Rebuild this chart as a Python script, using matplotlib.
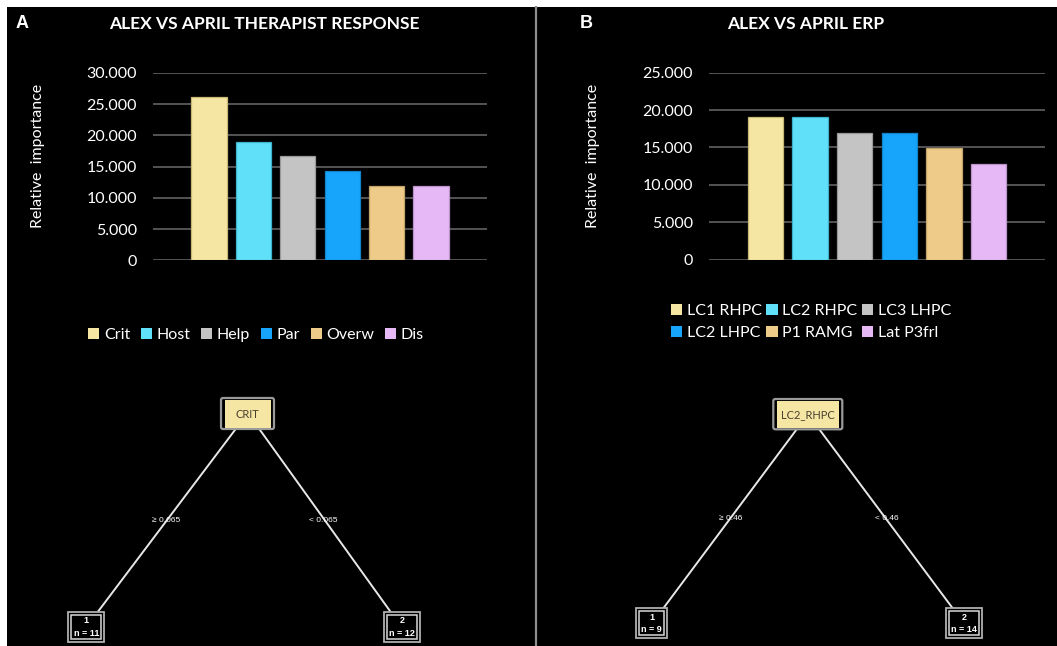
import matplotlib
matplotlib.use("Agg")
import matplotlib.pyplot as plt
from matplotlib.patches import Rectangle, FancyBboxPatch, Patch

# ---- data -------------------------------------------------------------
therapist_labels = ["Crit", "Host", "Help", "Par", "Overw", "Dis"]
therapist_values = [26.1, 19.0, 16.7, 14.3, 11.9, 11.9]

erp_labels = ["LC1 RHPC", "LC2 RHPC", "LC3 LHPC", "LC2 LHPC", "P1 RAMG", "Lat P3frl"]
erp_values = [19.1, 19.1, 17.0, 17.0, 14.9, 12.8]

therapist_ticks = [0, 5, 10, 15, 20, 25, 30]
erp_ticks = [0, 5, 10, 15, 20, 25]

tree_a_root = "CRIT"
tree_a_splits = ["\u2265 0.065", "< 0.065"]
tree_a_leaves = [("1", "n = 11"), ("2", "n = 12")]

tree_b_root = "LC2_RHPC"
tree_b_splits = ["\u2265 0.46", "< 0.46"]
tree_b_leaves = [("1", "n = 9"), ("2", "n = 14")]

# ---- style ------------------------------------------------------------
bar_colors = ["#F5E6A3", "#61E0FA", "#C4C4C4", "#17A5FC", "#EECB88", "#E6B8F5"]
bar_edges = ["#C9B874", "#3DB4CC", "#9A9A9A", "#1284CC", "#C2A36A", "#BB92C9"]
grid_color = "#5A5A5A"
text_font = ["Lato", "DejaVu Sans"]

W, H = 1057, 646
fig = plt.figure(figsize=(W / 100, H / 100), dpi=100, facecolor="white")


def fx(x):
    return x / W


def fy(y):
    return 1 - y / H


# full-figure pixel canvas for background, separators and trees
canvas = fig.add_axes([0, 0, 1, 1], zorder=0)
canvas.set_xlim(0, W)
canvas.set_ylim(H, 0)
canvas.axis("off")
canvas.add_patch(Rectangle((7, 7), W - 7, H - 7, facecolor="black", edgecolor="none"))
canvas.plot([535.5, 535.5], [7, H], color="#8C8C8C", lw=1.6)


def bar_panel(x0, x1, y_top, y_zero, labels, values, ticks, title, title_x, letter, letter_x,
              ylabel_x, legend_center, legend_ncol, colspace):
    ax = fig.add_axes([fx(x0), fy(y_zero), fx(x1) - fx(x0), (y_zero - y_top) / H], zorder=2)
    ax.set_facecolor("none")
    xs = list(range(len(values)))
    ax.bar(xs, values, width=0.79, color=bar_colors, edgecolor=bar_edges, linewidth=0.9, zorder=3)
    ax.set_xlim(-1.26, len(values) - 1 + 1.26)
    ax.set_ylim(ticks[0], ticks[-1])
    ax.set_yticks(ticks)
    ax.set_yticklabels(["0" if t == 0 else f"{t:.3f}" for t in ticks],
                       fontfamily=text_font, fontsize=11.5, color="white")
    ax.tick_params(axis="y", length=0, pad=11.5)
    ax.set_xticks([])
    for s in ax.spines.values():
        s.set_visible(False)
    ax.yaxis.grid(True, color=grid_color, lw=1.3, zorder=0)
    ax.set_axisbelow(True)

    fig.text(fx(title_x), fy(24), title, ha="center", va="center", color="white",
             fontsize=12.5, fontweight="bold", family=text_font)
    fig.text(fx(letter_x), fy(24), letter, ha="center", va="center", color="white",
             fontsize=13, fontweight="bold", family=["Liberation Sans", "DejaVu Sans"])
    fig.text(fx(ylabel_x), fy(156), "Relative  importance", rotation=90, ha="center",
             va="center", color="white", fontsize=11.5, family=text_font)

    handles = [Patch(facecolor=c, edgecolor="none") for c in bar_colors]
    hl = list(zip(handles, labels))
    if legend_ncol == 3:
        order = [0, 3, 1, 4, 2, 5]
        hl = [hl[i] for i in order]
    leg = fig.legend([h for h, _ in hl], [l for _, l in hl], loc="center",
                     bbox_to_anchor=(fx(legend_center[0]), fy(legend_center[1])),
                     ncol=legend_ncol, frameon=False, handlelength=0.7, handleheight=0.7,
                     handletextpad=0.3, columnspacing=colspace, labelspacing=0.45,
                     prop={"family": text_font, "size": 11.5})
    for t in leg.get_texts():
        t.set_color("white")
    return ax


bar_panel(153, 487, 73, 260.3, therapist_labels, therapist_values, therapist_ticks,
          "ALEX VS APRIL THERAPIST RESPONSE", 264, "A", 22, 38, (256, 335), 6, 0.65)
bar_panel(709, 1045, 72.7, 259.7, erp_labels, erp_values, erp_ticks,
          "ALEX VS APRIL ERP", 806, "B", 586, 593, (811, 322), 3, 0.3)


def root_box(x0, x1, y0, y1, label):
    canvas.add_patch(FancyBboxPatch((x0, y0), x1 - x0, y1 - y0,
                                    boxstyle="round,pad=0,rounding_size=2",
                                    facecolor="black", edgecolor="#9A9A9A", lw=1.6, zorder=3))
    canvas.add_patch(Rectangle((x0 + 3.5, y0 + 1.5), x1 - x0 - 7, y1 - y0 - 3,
                               facecolor="#F5E6A3", edgecolor="none", zorder=4))
    canvas.text((x0 + x1) / 2, (y0 + y1) / 2 + 0.5, label, ha="center", va="center",
                color="#4A4030", fontsize=8, family=text_font, zorder=5)


def leaf_box(x0, x1, y0, y1, node, count):
    canvas.add_patch(Rectangle((x0, y0), x1 - x0, y1 - y0, facecolor="black",
                               edgecolor="#B0B0B0", lw=1.3, zorder=3))
    canvas.add_patch(Rectangle((x0 + 3, y0 + 3), x1 - x0 - 6, y1 - y0 - 6, facecolor="none",
                               edgecolor="#D8D8D8", lw=1.1, zorder=3))
    cx = (x0 + x1) / 2
    canvas.text(cx, y0 + 9, node, ha="center", va="center", color="white",
                fontsize=6.5, fontweight="bold", family=["Liberation Sans", "DejaVu Sans"], zorder=5)
    canvas.text(cx, y1 - 9, count, ha="center", va="center", color="white",
                fontsize=6.5, fontweight="bold", family=["Liberation Sans", "DejaVu Sans"], zorder=5)


def edge(p0, p1):
    canvas.plot([p0[0], p1[0]], [p0[1], p1[1]], color="#E8E8E8", lw=1.4, zorder=2,
                solid_capstyle="butt")


def split_label(x, y, text):
    canvas.text(x, y, text, ha="center", va="center", color="white", fontsize=6,
                family=["Liberation Sans", "DejaVu Sans"], zorder=5)


# tree A
edge((235.7, 429), (97.7, 612))
edge((259.3, 429), (390.7, 612))
root_box(221, 274, 398, 429, tree_a_root)
leaf_box(68.3, 104.3, 611.7, 642.3, *tree_a_leaves[0])
leaf_box(384, 420, 611.7, 642.3, *tree_a_leaves[1])
split_label(166, 520.3, tree_a_splits[0])
split_label(323.7, 520.3, tree_a_splits[1])

# tree B
edge((796.7, 429.3), (663.3, 608.3))
edge((819.3, 429.3), (952.7, 608.3))
root_box(773.3, 842.3, 399, 429.3, tree_b_root)
leaf_box(636, 667, 608.3, 638.3, *tree_b_leaves[0])
leaf_box(946, 981.7, 608.3, 638.3, *tree_b_leaves[1])
split_label(730.5, 518.7, tree_b_splits[0])
split_label(887, 518.7, tree_b_splits[1])

fig.savefig("out.png", dpi=100, facecolor="white")
